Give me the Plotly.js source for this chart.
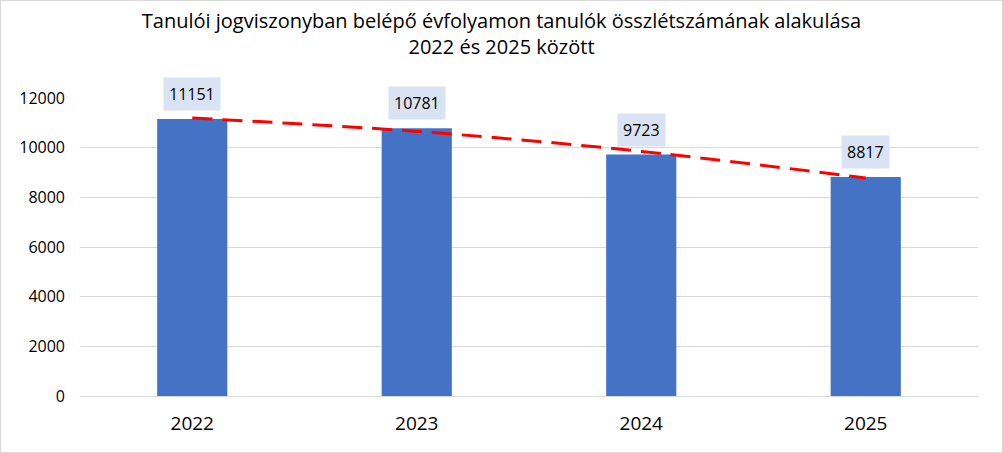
<!DOCTYPE html>
<html>
<head>
<meta charset="utf-8">
<script src="https://cdn.plot.ly/plotly-3.0.1.min.js"></script>
<style>
html,body{margin:0;padding:0;background:#fff;}
#chart{width:1003px;height:453px;box-sizing:border-box;border:1px solid #d9d9d9;}
</style>
</head>
<body>
<div id="chart"></div>
<script>
const categories = ['2022', '2023', '2024', '2025'];
const values = [11151, 10781, 9723, 8817];
const trendValues = [11193, 10655, 9849, 8775];
const yTicks = [0, 2000, 4000, 6000, 8000, 10000, 12000];

const FONT = "'Open Sans', 'Noto Sans', sans-serif";

const bars = {
  type: 'bar',
  x: categories,
  y: values,
  marker: {color: '#4472C4'},
  hoverinfo: 'x+y',
  showlegend: false
};
const trend = {
  type: 'scatter',
  mode: 'lines',
  x: categories,
  y: trendValues,
  line: {color: '#FF0000', width: 3, dash: '20px,10px', shape: 'spline'},
  hoverinfo: 'skip',
  showlegend: false
};

const annotations = categories.map((c, i) => ({
  x: i, y: values[i], xref: 'x', yref: 'y',
  text: String(values[i]),
  showarrow: false,
  yanchor: 'bottom',
  yshift: 8,
  bgcolor: '#DAE3F3',
  borderpad: 5,
  font: {family: FONT, size: 16, color: '#000000'}
}));

const layout = {
  width: 1001, height: 451,
  margin: {l: 79, r: 24, t: 97, b: 56},
  paper_bgcolor: '#ffffff',
  plot_bgcolor: '#ffffff',
  bargap: 0.6875,
  font: {family: FONT, color: '#000000'},
  title: {
    text: 'Tanulói jogviszonyban belépő évfolyamon tanulók összlétszámának alakulása<br>2022 és 2025 között',
    font: {family: FONT, size: 20, color: '#000000'},
    x: 0.5, xanchor: 'center',
    y: 0.941, yref: 'container', yanchor: 'top'
  },
  xaxis: {
    type: 'category',
    range: [-0.5, 3.5],
    autorange: false,
    tickfont: {family: FONT, size: 19, color: '#000000'},
    showgrid: false,
    showline: false,
    zeroline: false,
    ticks: '',
    ticklabelstandoff: 14
  },
  yaxis: {
    range: [0, 12000],
    autorange: false,
    tickvals: yTicks,
    ticktext: yTicks.map(String),
    tickfont: {family: FONT, size: 16, color: '#000000'},
    showgrid: true,
    gridcolor: '#d9d9d9',
    gridwidth: 1,
    zeroline: true,
    zerolinecolor: '#d9d9d9',
    zerolinewidth: 1,
    showline: false,
    ticks: '',
    ticklabelstandoff: 14
  },
  annotations: annotations
};

Plotly.newPlot('chart', [bars, trend], layout, {displayModeBar: false, responsive: false});
</script>
</body>
</html>
